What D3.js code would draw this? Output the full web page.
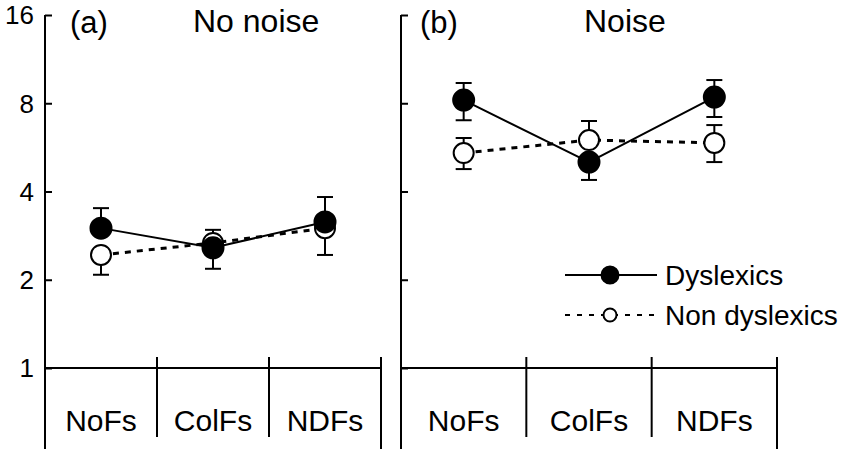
<!DOCTYPE html>
<html>
<head>
<meta charset="utf-8">
<script src="https://cdn.jsdelivr.net/npm/d3@7"></script>
<style>
    body { margin: 0; background: #fff; }
    svg { display: block; font-family: "Liberation Sans", Arial, sans-serif; }
    .tick line { stroke: #000; stroke-width: 2; }
    .tick text { display: none; }
</style>
</head>
<body>
<script>
var categories = ["NoFs", "ColFs", "NDFs"];
var yTicks = [1, 2, 4, 8, 16];
var panelTitles = ["(a)", "(b)"];
var panelNames = ["No noise", "Noise"];
var seriesNames = ["Dyslexics", "Non dyslexics"];

// No noise
var dysNoNoise = [3.0, 2.57, 3.15];
var dysNoNoiseHi = [3.51, null, 3.83];
var dysNoNoiseLo = [null, 2.18, null];
var nonNoNoise = [2.43, 2.67, 3.0];
var nonNoNoiseHi = [null, 2.96, null];
var nonNoNoiseLo = [2.08, null, 2.43];

// Noise
var dysNoise = [8.2, 5.04, 8.4];
var dysNoiseHi = [9.38, null, 9.6];
var dysNoiseLo = [7.0, 4.38, 7.18];
var nonNoise = [5.41, 5.99, 5.86];
var nonNoiseHi = [6.09, 6.96, 6.74];
var nonNoiseLo = [4.77, null, 5.04];

var width = 842, height = 449;

var svg = d3.select("body").append("svg")
    .attr("width", width)
    .attr("height", height);

var y = d3.scaleLog().base(2)
    .domain([1, 16])
    .range([368, 15]);

var panels = [
    { range: [45, 381], titleX: 70, nameX: 193,
      dys: [dysNoNoise, dysNoNoiseHi, dysNoNoiseLo],
      non: [nonNoNoise, nonNoNoiseHi, nonNoNoiseLo] },
    { range: [401, 777], titleX: 420, nameX: 584,
      dys: [dysNoise, dysNoiseHi, dysNoiseLo],
      non: [nonNoise, nonNoiseHi, nonNoiseLo] }
];

// tick labels only on the left panel
svg.append("g").selectAll("text")
    .data(yTicks)
    .enter().append("text")
    .attr("x", 34)
    .attr("y", d => y(d))
    .attr("dy", "0.36em")
    .attr("text-anchor", "end")
    .attr("font-size", 26)
    .text(d => d);

panels.forEach(function (p, idx) {
    var x = d3.scaleBand()
        .domain(categories)
        .range(p.range);

    var g = svg.append("g").attr("class", "panel");

    // y axis: ticks inside, line runs down past the table
    var axis = d3.axisRight(y).tickValues(yTicks).tickSize(7).tickFormat("");
    g.append("g")
        .attr("transform", "translate(" + p.range[0] + ",0)")
        .call(axis)
        .call(s => s.select(".domain").remove());
    g.append("line")
        .attr("x1", p.range[0]).attr("x2", p.range[0])
        .attr("y1", y(16)).attr("y2", height)
        .attr("stroke", "#000").attr("stroke-width", 2);

    // x axis line at 1
    g.append("line")
        .attr("x1", p.range[0]).attr("x2", p.range[1])
        .attr("y1", y(1)).attr("y2", y(1))
        .attr("stroke", "#000").attr("stroke-width", 2);

    // category dividers
    categories.forEach(function (c, i) {
        var xr = x(c) + x.bandwidth();
        var last = i === categories.length - 1;
        g.append("line")
            .attr("x1", xr).attr("x2", xr)
            .attr("y1", y(1) - 11)
            .attr("y2", last ? height : 437)
            .attr("stroke", "#000").attr("stroke-width", 2);
    });

    g.selectAll(".cat")
        .data(categories)
        .enter().append("text")
        .attr("class", "cat")
        .attr("x", d => x(d) + x.bandwidth() / 2)
        .attr("y", 431)
        .attr("text-anchor", "middle")
        .attr("font-size", 30)
        .text(d => d);

    g.append("text")
        .attr("x", p.titleX).attr("y", 33)
        .attr("font-size", 31)
        .text(panelTitles[idx]);
    g.append("text")
        .attr("x", p.nameX).attr("y", 32)
        .attr("font-size", 32)
        .text(panelNames[idx]);

    var cx = c => x(c) + x.bandwidth() / 2;
    var line = d3.line()
        .x((d, i) => cx(categories[i]))
        .y(d => y(d));

    function drawSeries(vals, filled) {
        var mean = vals[0], hi = vals[1], lo = vals[2];
        var s = g.append("g");
        s.append("path")
            .attr("d", line(mean))
            .attr("fill", "none")
            .attr("stroke", "#000")
            .attr("stroke-width", filled ? 2 : 3)
            .attr("stroke-dasharray", filled ? null : "6,6");
        categories.forEach(function (c, i) {
            [hi[i], lo[i]].forEach(function (e) {
                if (e == null) return;
                s.append("line")
                    .attr("x1", cx(c)).attr("x2", cx(c))
                    .attr("y1", y(mean[i])).attr("y2", y(e))
                    .attr("stroke", "#000").attr("stroke-width", 2);
                s.append("line")
                    .attr("x1", cx(c) - 8).attr("x2", cx(c) + 8)
                    .attr("y1", y(e)).attr("y2", y(e))
                    .attr("stroke", "#000").attr("stroke-width", 2);
            });
        });
        s.selectAll("circle")
            .data(mean)
            .enter().append("circle")
            .attr("cx", (d, i) => cx(categories[i]))
            .attr("cy", d => y(d))
            .attr("r", filled ? 10.5 : 10)
            .attr("fill", filled ? "#000" : "#fff")
            .attr("stroke", "#000")
            .attr("stroke-width", 2);
    }

    drawSeries(p.non, false);
    drawSeries(p.dys, true);
});

// legend
var legend = svg.append("g");
[true, false].forEach(function (filled, i) {
    var ly = filled ? 275 : 315;
    legend.append("line")
        .attr("x1", 565).attr("x2", 657)
        .attr("y1", ly).attr("y2", ly)
        .attr("stroke", "#000")
        .attr("stroke-width", 2)
        .attr("stroke-dasharray", filled ? null : "5,7");
    legend.append("circle")
        .attr("cx", 610).attr("cy", ly)
        .attr("r", filled ? 8.5 : 6.5)
        .attr("fill", filled ? "#000" : "#fff")
        .attr("stroke", "#000")
        .attr("stroke-width", 2);
    legend.append("text")
        .attr("x", 665).attr("y", ly + 10)
        .attr("font-size", 28)
        .text(seriesNames[i]);
});
</script>
</body>
</html>
